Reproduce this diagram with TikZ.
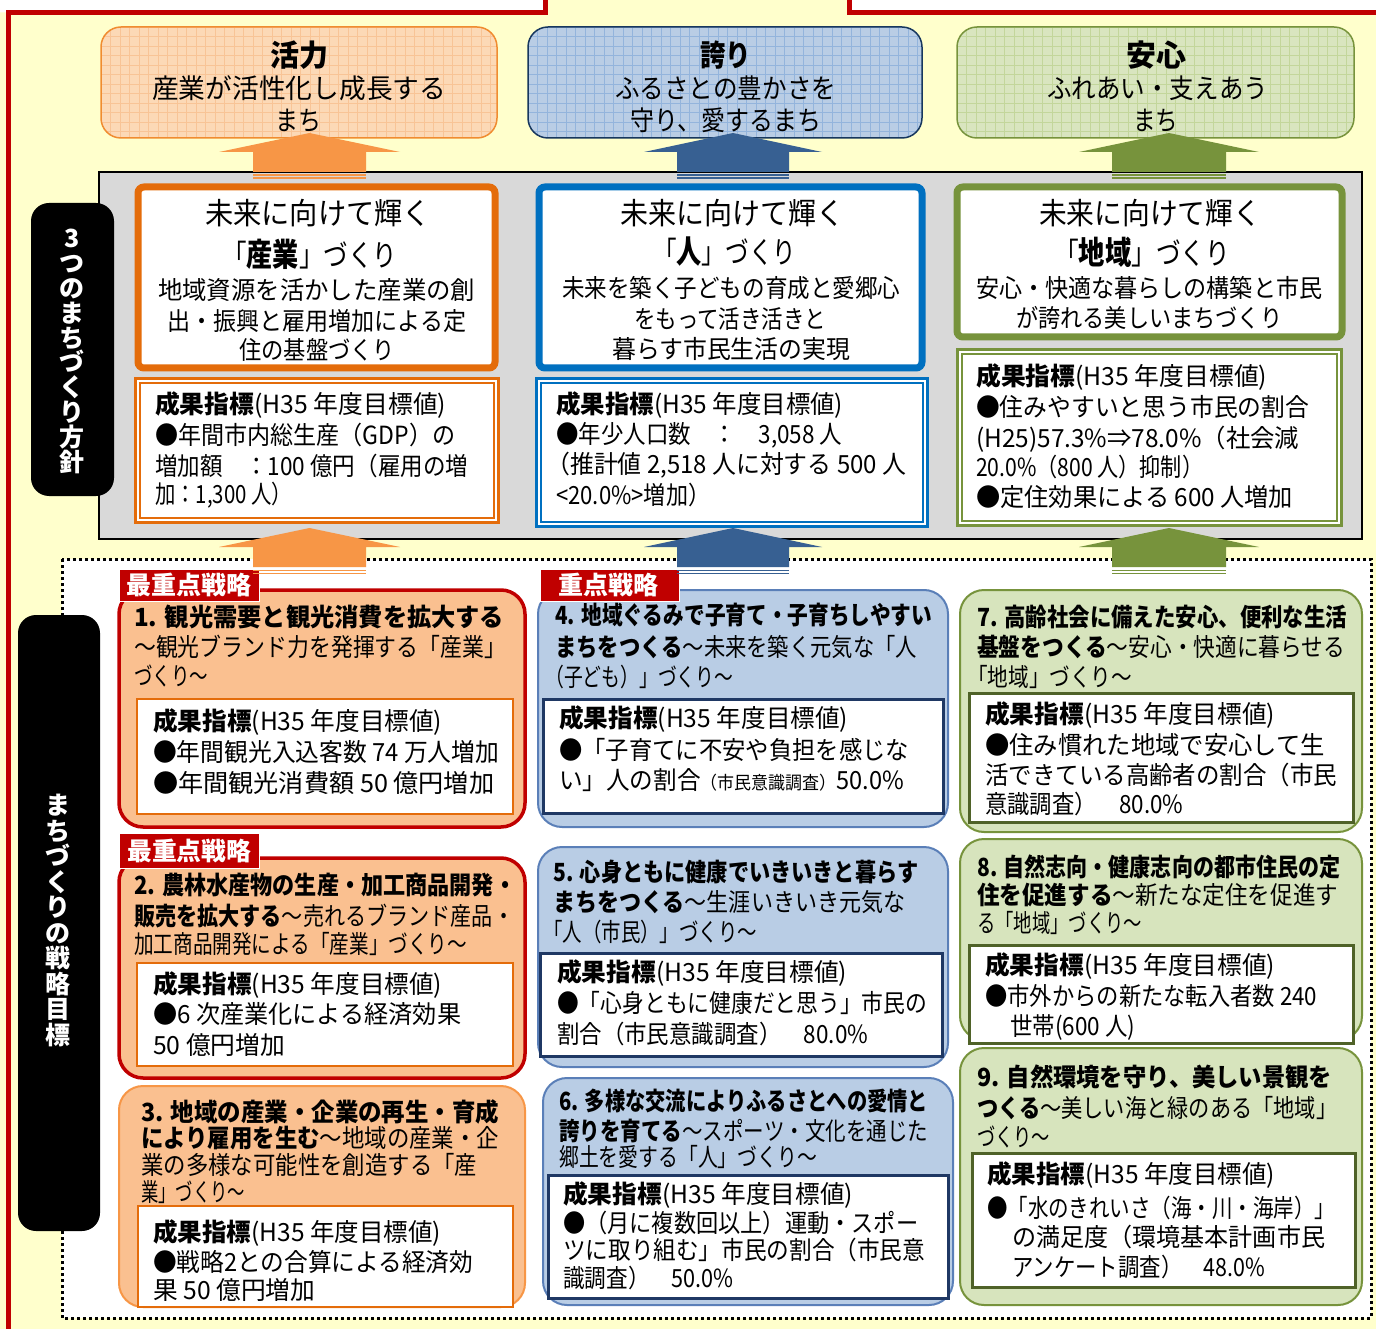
\documentclass[tikz,border=0pt]{standalone}
\usepackage{fontspec}
\usepackage{graphicx}
\newfontfamily\jp{Noto Sans CJK JP}
\definecolor{cream}{HTML}{FFFFCC}
\definecolor{fred}{HTML}{C00000}
\definecolor{gofill}{HTML}{FCD9B6}
\definecolor{gogrid}{HTML}{F8C496}
\definecolor{goline}{HTML}{F08C30}
\definecolor{gbfill}{HTML}{B9CDE5}
\definecolor{gbgrid}{HTML}{93B4DC}
\definecolor{gbline}{HTML}{17375E}
\definecolor{ggfill}{HTML}{D9E5BF}
\definecolor{gggrid}{HTML}{C3D69B}
\definecolor{ggline}{HTML}{77933C}
\definecolor{aor}{HTML}{F79646}
\definecolor{abl}{HTML}{376092}
\definecolor{agr}{HTML}{77933C}
\definecolor{gbox}{HTML}{D9D9D9}
\definecolor{dor}{HTML}{E46C0A}
\definecolor{dbl}{HTML}{0070C0}
\definecolor{dgr}{HTML}{77933C}
\definecolor{sor}{HTML}{FAC090}
\definecolor{sbl}{HTML}{B9CDE5}
\definecolor{sgr}{HTML}{D7E4BD}
\definecolor{sblb}{HTML}{5A7FB8}
\definecolor{kbl}{HTML}{1F3864}
\definecolor{kgr}{HTML}{4F6228}
\newsavebox\mybox
\def\cursz{23}
\newcommand\setsz[1]{\gdef\cursz{#1}}
\newcommand\fitbox[2]{% target width, text
  \sbox\mybox{\fontsize{\cursz}{\cursz}\selectfont\jp\rule[-0.12em]{0pt}{1em}#2}%
  \pgfmathsetmacro\tmpsc{#1/\the\wd\mybox}%
  \scalebox{\tmpsc}[1]{\usebox\mybox}}
\newcommand\fitL[4]{%
  \node[anchor=west,inner sep=0pt] at (#1,#3) {\fitbox{(#2-#1)}{#4}};}
\newcommand\blockarr[5]{%
  \fill[#5] (#1,#2) -- ({#1+#3},{#2+19}) -- ({#1+#4},{#2+19}) -- ({#1+#4},{#2+39}) -- ({#1-#4},{#2+39}) -- ({#1-#4},{#2+19}) -- ({#1-#3},{#2+19}) -- cycle;
  \fill[#5] ({#1-#4},{#2+41.5}) rectangle ({#1+#4},{#2+43});
  \fill[#5] ({#1-#4},{#2+44.5}) rectangle ({#1+#4},{#2+46});}
\newcommand\goalbox[6]{% x1,y1,x2,y2,fill,grid
  \begin{scope}
    \clip[rounded corners=20pt] (#1,#2) rectangle (#3,#4);
    \fill[#5] (#1,#2) rectangle (#3,#4);
    \foreach \gx in {0,9.5,...,400} \draw[#6,line width=0.6pt] ({#1+\gx},#2) -- ({#1+\gx},#4);
    \foreach \gy in {0,9.5,...,115} \draw[#6,line width=0.6pt] (#1,{#2+\gy}) -- (#3,{#2+\gy});
  \end{scope}}
\newcommand\kpidouble[5]{% x1,y1,x2,y2,color
  \fill[white] (#1,#2) rectangle (#3,#4);
  \draw[#5,line width=2.5pt] ({#1+1.5},{#2+1.5}) rectangle ({#3-1.5},{#4-1.5});
  \draw[#5,line width=1.5pt] ({#1+6},{#2+6}) rectangle ({#3-6},{#4-6});}
\begin{document}
\begin{tikzpicture}[x=1pt,y=-1pt,
  goalline/.style={line width=1.5pt,rounded corners=20pt},
  dirbox/.style={line width=7pt,rounded corners=6pt,fill=white},
  stratbox/.style={rounded corners=24pt},
  kpibox/.style={fill=white},
  tagbox/.style={fill=fred,draw=white,line width=1pt},
  labelbox/.style={fill=black,rounded corners=18pt},
  labelchar/.style={text=white,inner sep=0pt,font=\fontsize{25}{25}\selectfont\jp\bfseries}]
\useasboundingbox (0,0) rectangle (1376,1329);
% background and frame
\fill[white] (0,0) rectangle (1376,1329);
\fill[cream] (0,12.5) -- (545,12.5) -- (545,0) -- (849,0) -- (849,12.5) -- (1376,12.5) -- (1376,1329) -- (0,1329) -- cycle;
\draw[fred,line width=5pt] (8,1335) -- (8,12.5) -- (545,12.5) -- (545,-5);
\draw[fred,line width=5pt] (849,-5) -- (849,12.5) -- (1380,12.5);
% goal boxes
\goalbox{101}{27}{497}{138}{gofill}{gogrid}
\draw[goline,goalline] (101,27) rectangle (497,138);
\goalbox{528}{27}{922}{138}{gbfill}{gbgrid}
\draw[gbline,goalline] (528,27) rectangle (922,138);
\goalbox{957}{27}{1354}{138}{ggfill}{gggrid}
\draw[ggline,goalline] (957,27) rectangle (1354,138);
% gray box
\draw[black,fill=gbox,line width=1.5pt] (99,172) rectangle (1362,539);
% direction boxes
\draw[dor,dirbox] (138,187) rectangle (495,368);
\draw[dbl,dirbox] (539,187) rectangle (922,368);
\draw[dgr,dirbox] (957,187) rectangle (1342,337);
\kpidouble{134}{377}{500}{524}{dor}
\kpidouble{535}{377}{929}{528}{dbl}
\kpidouble{956}{348}{1343}{527}{dgr}
% top arrows
\blockarr{309.5}{133}{90.5}{56.5}{aor}
\blockarr{733}{133}{89}{56}{abl}
\blockarr{1169}{133}{90}{57}{agr}
% label 1
\fill[labelbox] (31,203) rectangle (114,496);
% dotted strategy area
\fill[white] (62,559) rectangle (1371,1318);
\draw[black,line width=3pt,dash pattern=on 3pt off 3pt] (62,559) rectangle (1371,1318);
% strategy boxes
\draw[fred,fill=sor,line width=3.5pt,stratbox] (119,590) rectangle (525,827);
\draw[dor,kpibox,line width=2.5pt] (137,699) rectangle (513,814);
\draw[fred,fill=sor,line width=3.5pt,stratbox] (119,858) rectangle (525,1078);
\draw[dor,kpibox,line width=2.5pt] (137,963) rectangle (513,1066);
\draw[aor,fill=sor,line width=2pt,stratbox] (119,1086) rectangle (525,1307);
\draw[dor,kpibox,line width=2.5pt] (138,1206) rectangle (513,1307);
\draw[sblb,fill=sbl,line width=2pt,stratbox] (538,590) rectangle (948,827);
\draw[kbl,kpibox,line width=3pt] (543,699) rectangle (943,813);
\draw[sblb,fill=sbl,line width=2pt,stratbox] (538,847) rectangle (948,1067);
\draw[kbl,kpibox,line width=3pt] (540,953) rectangle (942,1056);
\draw[sblb,fill=sbl,line width=2pt,stratbox] (543,1078) rectangle (953,1305);
\draw[kbl,kpibox,line width=3pt] (548,1175) rectangle (948,1298);
\draw[agr,fill=sgr,line width=2pt,stratbox] (960,590) rectangle (1362,832);
\draw[kgr,kpibox,line width=3pt] (969,693) rectangle (1353,822);
\draw[agr,fill=sgr,line width=2pt,stratbox] (960,839) rectangle (1362,1040);
\draw[kgr,kpibox,line width=3pt] (969,945) rectangle (1353,1043);
\draw[agr,fill=sgr,line width=2pt,stratbox] (960,1048) rectangle (1362,1305);
\draw[kgr,kpibox,line width=3pt] (972,1153) rectangle (1355,1287);
% tags
\draw[tagbox] (119,569) rectangle (259,601);
\draw[tagbox] (119,833) rectangle (259,868);
\draw[tagbox] (540,569) rectangle (679,601);
% bottom arrows
\blockarr{309.5}{528}{90.5}{56.5}{aor}
\blockarr{733}{528}{89}{56}{abl}
\blockarr{1169}{528}{90}{57}{agr}
% label 2
\fill[labelbox] (18,615) rectangle (100,1231);
% vertical label texts
\foreach \c [count=\i from 0] in {3,つ,の,ま,ち,づ,く,り,方,針}
  \node[labelchar] at (72,{238+24.9*\i}) {\rule[-0.12em]{0pt}{1em}\c};
\foreach \c [count=\i from 0] in {ま,ち,づ,く,り,の,戦,略,目,標}
  \node[labelchar] at (58,{805+25.5*\i}) {\rule[-0.12em]{0pt}{1em}\c};
% goal texts
\setsz{30}
\fitL{270}{328}{55}{\bfseries 活力}
\fitL{700}{751}{55}{\bfseries 誇り}
\fitL{1126}{1186}{55}{\bfseries 安心}
\setsz{27}
\fitL{152}{446}{88}{産業が活性化し成長する}
\fitL{275}{321}{120}{まち}
\fitL{615}{836}{88}{ふるさとの豊かさを}
\fitL{630}{821}{120}{守り、愛するまち}
\fitL{1047}{1268}{88}{ふれあい・支えあう}
\fitL{1133}{1178}{120}{まち}
% direction texts
\setsz{30}
\fitL{205}{431}{213}{未来に向けて輝く}
\fitL{620}{844}{213}{未来に向けて輝く}
\fitL{1039}{1261}{213}{未来に向けて輝く}
\fitL{222}{397}{255}{「{\bfseries\fontsize{32}{32}\selectfont 産業}」づくり}
\fitL{653}{796}{252}{「{\bfseries\fontsize{32}{32}\selectfont 人}」づくり}
\fitL{1054}{1230}{253}{「{\bfseries\fontsize{32}{32}\selectfont 地域}」づくり}
\setsz{25}
\fitL{158}{475}{290}{地域資源を活かした産業の創}
\fitL{167}{466}{321}{出・振興と雇用増加による定}
\fitL{239}{395}{350}{住の基盤づくり}
\fitL{562}{900}{288}{未来を築く子どもの育成と愛郷心}
\fitL{634}{826}{319}{をもって活き活きと}
\fitL{612}{850}{349}{暮らす市民生活の実現}
\fitL{976}{1322}{288}{安心・快適な暮らしの構築と市民}
\fitL{1016}{1282}{318}{が誇れる美しいまちづくり}
% direction KPI texts
\fitL{155}{446}{405}{{\bfseries 成果指標}(H35 年度目標値)}
\fitL{155}{455}{435}{●年間市内総生産（GDP）の}
\fitL{155}{468}{466}{増加額　：100 億円（雇用の増}
\fitL{155}{292}{495}{加：1,300 人）}
\fitL{556}{843}{405}{{\bfseries 成果指標}(H35 年度目標値)}
\fitL{556}{842}{435}{●年少人口数　：　3,058 人}
\fitL{546}{906}{465}{（推計値 2,518 人に対する 500 人}
\fitL{556}{710}{495}{<20.0\%>増加）}
\fitL{976}{1267}{377}{{\bfseries 成果指標}(H35 年度目標値)}
\fitL{976}{1309}{407}{●住みやすいと思う市民の割合}
\fitL{976}{1299}{439}{(H25)57.3\%⇒78.0\%（社会減}
\fitL{976}{1203}{467}{20.0\%（800 人）抑制）}
\fitL{976}{1293}{497}{●定住効果による 600 人増加}
% tags text
\fitL{126}{251}{585}{\color{white}\bfseries 最重点戦略}
\fitL{127}{251}{851}{\color{white}\bfseries 最重点戦略}
\fitL{558}{658}{585}{\color{white}\bfseries 重点戦略}
% strategy 1
\fitL{134}{504}{617}{\bfseries 1. 観光需要と観光消費を拡大する}
\fitL{134}{506}{647}{〜観光ブランド力を発揮する「産業」}
\fitL{134}{208}{676}{づくり〜}
\fitL{153}{442}{722}{{\bfseries 成果指標}(H35 年度目標値)}
\fitL{153}{499}{752}{●年間観光入込客数 74 万人増加}
\fitL{153}{494}{783}{●年間観光消費額 50 億円増加}
% strategy 2
\fitL{134}{516}{885}{\bfseries 2. 農林水産物の生産・加工商品開発・}
\fitL{134}{514}{916}{{\bfseries 販売を拡大する}〜売れるブランド産品・}
\fitL{134}{467}{944}{加工商品開発による「産業」づくり〜}
\fitL{153}{442}{985}{{\bfseries 成果指標}(H35 年度目標値)}
\fitL{153}{461}{1014}{●6 次産業化による経済効果}
\fitL{153}{285}{1045}{50 億円増加}
% strategy 3
\fitL{141}{499}{1112}{\bfseries 3. 地域の産業・企業の再生・育成}
\fitL{141}{499}{1138}{{\bfseries により雇用を生む}〜地域の産業・企}
\fitL{141}{477}{1165}{業の多様な可能性を創造する「産}
\fitL{141}{245}{1192}{業」づくり〜}
\fitL{153}{441}{1233}{{\bfseries 成果指標}(H35 年度目標値)}
\fitL{153}{473}{1262}{●戦略2との合算による経済効}
\fitL{153}{315}{1290}{果 50 億円増加}
% strategy 4
\fitL{555}{932}{615}{\bfseries 4. 地域ぐるみで子育て・子育ちしやすい}
\fitL{555}{917}{647}{{\bfseries まちをつくる}〜未来を築く元気な「人}
\fitL{545}{733}{677}{（子ども）」づくり〜}
\fitL{559}{848}{719}{{\bfseries 成果指標}(H35 年度目標値)}
\fitL{559}{909}{750}{●「子育てに不安や負担を感じな}
\fitL{559}{904}{780}{い」人の割合{\fontsize{18}{18}\selectfont（市民意識調査）}50.0\%}
% strategy 5
\fitL{553}{918}{872}{\bfseries 5. 心身ともに健康でいきいきと暮らす}
\fitL{553}{905}{902}{{\bfseries まちをつくる}〜生涯いきいき元気な}
\fitL{543}{757}{932}{「人（市民）」づくり〜}
\fitL{557}{847}{973}{{\bfseries 成果指標}(H35 年度目標値)}
\fitL{557}{927}{1003}{●「心身ともに健康だと思う」市民の}
\fitL{557}{868}{1034}{割合（市民意識調査）　80.0\%}
% strategy 6
\fitL{559}{928}{1101}{\bfseries 6. 多様な交流によりふるさとへの愛情と}
\fitL{559}{928}{1131}{{\bfseries 誇りを育てる}〜スポーツ・文化を通じた}
\fitL{559}{817}{1157}{郷土を愛する「人」づくり〜}
\fitL{563}{853}{1195}{{\bfseries 成果指標}(H35 年度目標値)}
\fitL{563}{918}{1223}{●（月に複数回以上）運動・スポー}
\fitL{563}{925}{1250}{ツに取り組む」市民の割合（市民意}
\fitL{563}{733}{1278}{識調査）　50.0\%}
% strategy 7
\fitL{977}{1347}{617}{\bfseries 7. 高齢社会に備えた安心、便利な生活}
\fitL{977}{1345}{647}{{\bfseries 基盤をつくる}〜安心・快適に暮らせる}
\fitL{967}{1132}{677}{「地域」づくり〜}
\fitL{985}{1275}{715}{{\bfseries 成果指標}(H35 年度目標値)}
\fitL{985}{1325}{745}{●住み慣れた地域で安心して生}
\fitL{985}{1337}{775}{活できている高齢者の割合（市民}
\fitL{985}{1183}{804}{意識調査）　80.0\%}
% strategy 8
\fitL{977}{1340}{867}{\bfseries 8. 自然志向・健康志向の都市住民の定}
\fitL{977}{1338}{895}{{\bfseries 住を促進する}〜新たな定住を促進す}
\fitL{977}{1142}{923}{る「地域」づくり〜}
\fitL{985}{1275}{966}{{\bfseries 成果指標}(H35 年度目標値)}
\fitL{985}{1317}{996}{●市外からの新たな転入者数 240}
\fitL{1010}{1135}{1027}{世帯(600 人)}
% strategy 9
\fitL{977}{1332}{1077}{\bfseries 9. 自然環境を守り、美しい景観を}
\fitL{977}{1337}{1108}{{\bfseries つくる}〜美しい海と緑のある「地域」}
\fitL{977}{1050}{1137}{づくり〜}
\fitL{987}{1275}{1175}{{\bfseries 成果指標}(H35 年度目標値)}
\fitL{987}{1335}{1208}{●「水のきれいさ（海・川・海岸）」}
\fitL{1012}{1325}{1237}{の満足度（環境基本計画市民}
\fitL{1012}{1265}{1267}{アンケート調査）　48.0\%}
\end{tikzpicture}
\end{document}
